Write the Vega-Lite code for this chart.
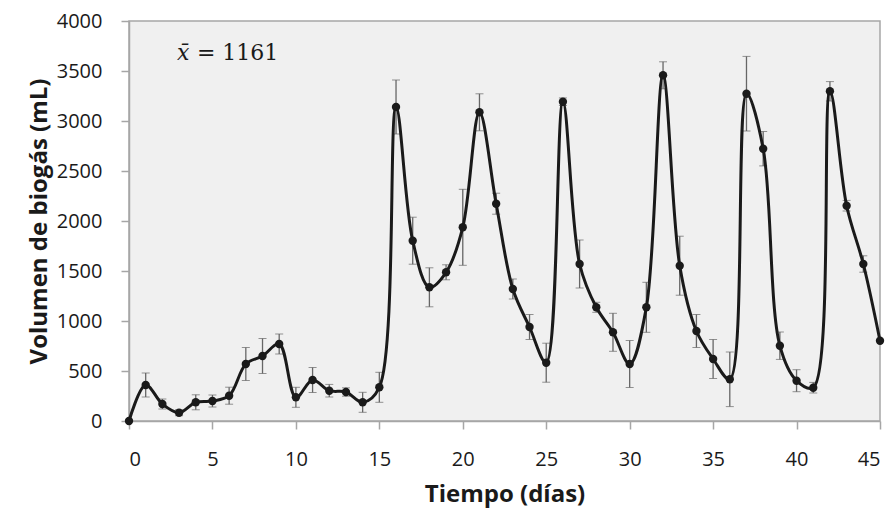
{
  "$schema": "https://vega.github.io/schema/vega-lite/v6.json",
  "autosize": "none",
  "width": 751,
  "height": 400,
  "padding": {"left": 129, "top": 21, "right": 16, "bottom": 95},
  "background": "white",
  "config": {
    "view": {"fill": "#f0f0f0", "stroke": "#a6a6a6", "strokeWidth": 1.5},
    "font": "Open Sans"
  },
  "data": {
    "values": [
      {"dia": 0, "vol": 0, "sd": 0},
      {"dia": 1, "vol": 360, "sd": 120},
      {"dia": 2, "vol": 170, "sd": 50},
      {"dia": 3, "vol": 83, "sd": 30},
      {"dia": 4, "vol": 187, "sd": 75},
      {"dia": 5, "vol": 200, "sd": 60},
      {"dia": 6, "vol": 253, "sd": 85},
      {"dia": 7, "vol": 570, "sd": 165},
      {"dia": 8, "vol": 650, "sd": 175},
      {"dia": 9, "vol": 770, "sd": 100},
      {"dia": 10, "vol": 237, "sd": 100},
      {"dia": 11, "vol": 410, "sd": 125},
      {"dia": 12, "vol": 303, "sd": 63},
      {"dia": 13, "vol": 290, "sd": 42},
      {"dia": 14, "vol": 187, "sd": 100},
      {"dia": 15, "vol": 337, "sd": 150},
      {"dia": 16, "vol": 3140, "sd": 270},
      {"dia": 17, "vol": 1803, "sd": 235},
      {"dia": 18, "vol": 1337, "sd": 195},
      {"dia": 19, "vol": 1487, "sd": 75},
      {"dia": 20, "vol": 1937, "sd": 380},
      {"dia": 21, "vol": 3087, "sd": 185},
      {"dia": 22, "vol": 2173, "sd": 105},
      {"dia": 23, "vol": 1320, "sd": 100},
      {"dia": 24, "vol": 940, "sd": 125},
      {"dia": 25, "vol": 583, "sd": 195},
      {"dia": 26, "vol": 3193, "sd": 38},
      {"dia": 27, "vol": 1570, "sd": 240},
      {"dia": 28, "vol": 1137, "sd": 50},
      {"dia": 29, "vol": 887, "sd": 190},
      {"dia": 30, "vol": 570, "sd": 235},
      {"dia": 31, "vol": 1137, "sd": 250},
      {"dia": 32, "vol": 3457, "sd": 135},
      {"dia": 33, "vol": 1553, "sd": 295},
      {"dia": 34, "vol": 900, "sd": 165},
      {"dia": 35, "vol": 620, "sd": 195},
      {"dia": 36, "vol": 417, "sd": 273},
      {"dia": 37, "vol": 3273, "sd": 373},
      {"dia": 38, "vol": 2723, "sd": 172},
      {"dia": 39, "vol": 753, "sd": 137},
      {"dia": 40, "vol": 403, "sd": 110},
      {"dia": 41, "vol": 333, "sd": 53},
      {"dia": 42, "vol": 3297, "sd": 97},
      {"dia": 43, "vol": 2153, "sd": 53},
      {"dia": 44, "vol": 1570, "sd": 82},
      {"dia": 45, "vol": 803, "sd": 0}
    ]
  },
  "encoding": {
    "x": {
      "field": "dia", "type": "quantitative",
      "scale": {"domain": [0, 45], "nice": false, "zero": false},
      "axis": {
        "values": [0, 5, 10, 15, 20, 25, 30, 35, 40, 45],
        "grid": false, "title": "Tiempo (días)", "format": "d",
        "domainColor": "#a6a6a6", "domainWidth": 1.5, "tickColor": "#a6a6a6", "tickWidth": 1.5, "tickSize": 8,
        "labelFontSize": 20, "labelColor": "#1a1a1a", "labelPadding": 20, "labelFont": "Open Sans",
        "titleFontSize": 24, "titleFontWeight": "bold", "titleColor": "#1a1a1a", "titlePadding": 13, "titleFont": "Open Sans"
      }
    },
    "y": {
      "field": "vol", "type": "quantitative",
      "scale": {"domain": [0, 4000], "nice": false},
      "axis": {
        "values": [0, 500, 1000, 1500, 2000, 2500, 3000, 3500, 4000],
        "grid": false, "title": "Volumen de biogás (mL)", "format": "d",
        "domainColor": "#a6a6a6", "domainWidth": 1.5, "tickColor": "#a6a6a6", "tickWidth": 1.5, "tickSize": 8,
        "labelFontSize": 20, "labelColor": "#1a1a1a", "labelPadding": 19, "labelFont": "Open Sans",
        "titleFontSize": 24, "titleFontWeight": "bold", "titleColor": "#1a1a1a", "titlePadding": 5, "titleFont": "Open Sans"
      }
    }
  },
  "layer": [
    {
      "transform": [{"filter": "datum.sd > 0"}],
      "mark": {"type": "errorbar", "ticks": {"size": 8, "color": "#666", "strokeWidth": 1.3}, "rule": {"color": "#666", "strokeWidth": 1.3}},
      "encoding": {
        "y": {"field": "vol", "type": "quantitative"},
        "yError": {"field": "sd"}
      }
    },
    {
      "mark": {"type": "line", "interpolate": "catmull-rom", "color": "#1a1a1a", "strokeWidth": 3}
    },
    {
      "mark": {"type": "circle", "color": "#1a1a1a", "size": 70, "opacity": 1}
    },
    {
      "data": {"values": [{"dia": 2.88, "vol": 3610, "label": "x̄"}]},
      "mark": {"type": "text", "align": "left", "baseline": "alphabetic", "font": "DejaVu Serif", "fontStyle": "italic", "fontSize": 22, "color": "#1a1a1a"},
      "encoding": {
        "text": {"field": "label"}
      }
    },
    {
      "data": {"values": [{"dia": 4.07, "vol": 3610, "label": "= 1161"}]},
      "mark": {"type": "text", "align": "left", "baseline": "alphabetic", "font": "DejaVu Serif", "fontSize": 22, "color": "#1a1a1a"},
      "encoding": {
        "text": {"field": "label"}
      }
    }
  ]
}
